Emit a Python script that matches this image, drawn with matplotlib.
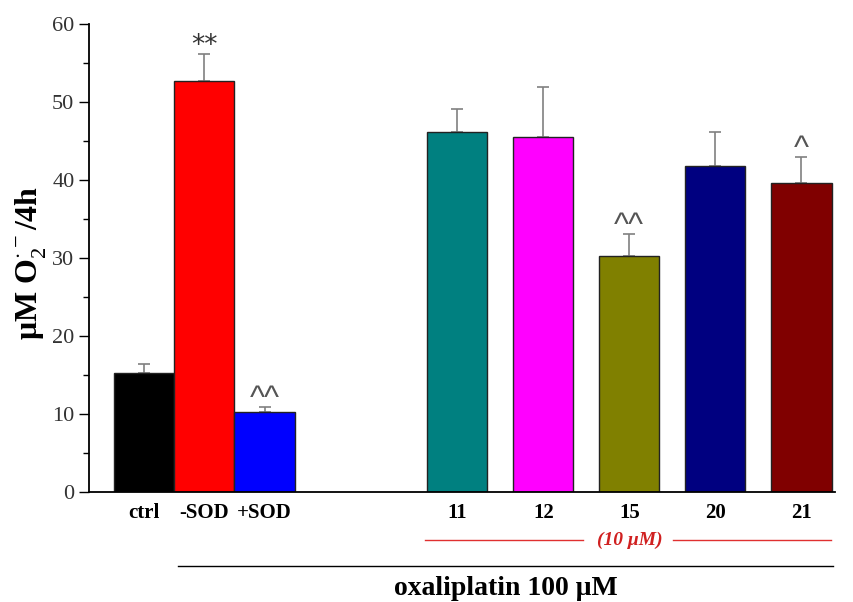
import matplotlib.pyplot as plt
import matplotlib.transforms as mtransforms
from matplotlib.ticker import MultipleLocator

plt.rcParams["font.family"] = ["Liberation Serif", "DejaVu Serif"]
plt.rcParams["mathtext.fontset"] = "custom"
plt.rcParams["mathtext.rm"] = "Liberation Serif"
plt.rcParams["mathtext.bf"] = "Liberation Serif:bold"

labels = ["ctrl", "-SOD", "+SOD", "11", "12", "15", "20", "21"]
values = [15.3, 52.65, 10.2, 46.2, 45.55, 30.3, 41.8, 39.6]
errors = [1.1, 3.5, 0.75, 2.9, 6.35, 2.8, 4.4, 3.3]
colors = ["#000000", "#ff0000", "#0000ff", "#008080", "#ff00ff",
          "#808000", "#000080", "#800000"]
marks = ["", "**", "^^", "", "", "^^", "", "^"]
positions = [0, 0.7, 1.4, 3.64, 4.64, 5.64, 6.64, 7.64]

fig = plt.figure(figsize=(8.54, 6.02), dpi=100)
ax = fig.add_axes([0.1042, 0.1827, 0.8735, 0.7774])

ax.bar(positions, values, width=0.7, color=colors, edgecolor="#222222",
       linewidth=1.0, zorder=2)
ax.errorbar(positions, values, yerr=[[0] * len(errors), errors], fmt="none",
            ecolor="#808080", elinewidth=1.2, capsize=4, capthick=1.2, zorder=1)

for x, v, e, m in zip(positions, values, errors, marks):
    if m == "**":
        ax.text(x, v + e - 0.6, m, ha="center", va="bottom", fontsize=19,
                color="#333333", family="DejaVu Sans")
    elif m:
        ax.text(x, v + e - 0.9, m, ha="center", va="bottom", fontsize=23,
                color="#555555", family="Liberation Sans")

ax.set_xlim(-0.64, 8.03)
ax.set_ylim(0, 60)
ax.yaxis.set_major_locator(MultipleLocator(10))
ax.yaxis.set_minor_locator(MultipleLocator(5))
ax.set_xticks(positions)
ax.set_xticklabels(labels, fontsize=15, fontweight="bold")
ax.tick_params(axis="x", length=0, pad=8)
ax.tick_params(axis="y", which="major", length=7, width=1, labelsize=16,
               labelcolor="#333333")
ax.tick_params(axis="y", which="minor", length=4, width=1)
for s in ["top", "right"]:
    ax.spines[s].set_visible(False)
for s in ["left", "bottom"]:
    ax.spines[s].set_linewidth(1.3)

ax.set_ylabel(r"$\mathbf{\mu}$M O$_2^{\cdot -}$/4h", fontsize=23,
              fontweight="bold", va="center")
ax.yaxis.set_label_coords(-0.079, 0.49)

trans = mtransforms.blended_transform_factory(ax.transData, ax.transAxes)
ax.plot([3.27, 5.10], [-0.1026, -0.1026], color="#e03030", lw=1.0,
        transform=trans, clip_on=False)
ax.plot([6.15, 7.98], [-0.1026, -0.1026], color="#e03030", lw=1.0,
        transform=trans, clip_on=False)
ax.text(5.64, -0.1026, "(10 μM)", color="#d02020", fontsize=14,
        fontstyle="italic", fontweight="bold", ha="center", va="center",
        transform=trans)
ax.plot([0.395, 8.01], [-0.158, -0.158], color="black", lw=1.0,
        transform=trans, clip_on=False)
ax.text(4.2, -0.207, "oxaliplatin 100 μM", fontsize=20, fontweight="bold",
        ha="center", va="center", transform=trans)

fig.savefig("out.png", dpi=100)
